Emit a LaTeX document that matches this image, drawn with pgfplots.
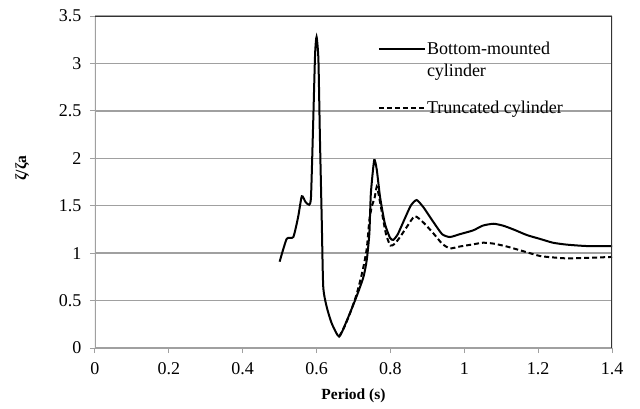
\documentclass[border=0pt]{standalone}
\usepackage{fontspec}
\setmainfont{Liberation Serif}
\usepackage{pgfplots}
\pgfplotsset{compat=1.18}
\definecolor{gridgray}{HTML}{A0A0A0}
\begin{document}
\begin{tikzpicture}
\path[use as bounding box] (-95pt,-60pt) rectangle (545pt,348pt);
\begin{axis}[
  at={(0pt,0pt)}, anchor=origin,
  scale only axis, width=517pt, height=332pt,
  xmin=0, xmax=1.4, ymin=0, ymax=3.5,
  xtick={0,0.2,...,1.4}, ytick={0,0.5,...,3.5},
  xticklabels={0,0.2,0.4,0.6,0.8,1,1.2,1.4},
  yticklabels={0,0.5,1,1.5,2,2.5,3,3.5},
  axis line style={draw=none},
  ymajorgrids, grid style={gridgray, line width=1.3pt},
  tick align=outside, major tick length=5pt,
  tick style={gridgray, line width=1pt},
  xtick pos=bottom, ytick pos=left,
  ticklabel style={font=\fontsize{18}{21}\selectfont},
  xticklabel style={yshift=-6pt},
  yticklabel style={xshift=-5pt},
  /pgf/number format/assume math mode=true,
  xlabel={Period (s)},
  ylabel={ζ/ζa},
  xlabel style={font=\fontsize{15.5}{18}\selectfont\bfseries, at={(axis description cs:0.5,-0.145)}, anchor=center},
  ylabel style={font=\fontsize{15.5}{18}\selectfont\bfseries, at={(axis description cs:-0.141,0.542)}, anchor=center},
  legend style={at={(0.547,0.925)}, anchor=north west, draw=none, fill=none,
    font=\fontsize{18}{22}\selectfont, inner sep=0pt, row sep=21pt,
    nodes={align=left, inner sep=1pt}},
  legend cell align=left,
]
\addplot[black, line width=2pt, dash pattern=on 5pt off 3pt, smooth, tension=0.35,
  forget plot] table {
x y
0.661 0.12
0.675 0.22
0.690 0.36
0.708 0.56
0.725 0.82
0.736 1.05
0.743 1.35
0.750 1.50
0.757 1.58
0.763 1.70
0.768 1.62
0.776 1.45
0.788 1.20
0.800 1.08
0.812 1.10
0.826 1.17
0.845 1.28
0.866 1.39
0.890 1.32
0.916 1.21
0.940 1.10
0.961 1.05
0.988 1.07
1.020 1.09
1.051 1.11
1.080 1.10
1.115 1.07
1.160 1.02
1.205 0.97
1.240 0.955
1.277 0.945
1.330 0.95
1.400 0.96
};
\addplot[black, line width=2pt, smooth, tension=0.35,
  legend image code/.code={\draw[black, line width=2pt] (0pt,11pt) -- (46pt,11pt);}] table {
x y
0.500 0.91
0.519 1.15
0.537 1.17
0.550 1.38
0.560 1.60
0.570 1.54
0.580 1.51
0.585 1.60
0.591 2.40
0.596 3.10
0.600 3.28
0.605 3.04
0.609 2.23
0.614 1.35
0.618 0.65
0.627 0.44
0.641 0.26
0.661 0.12
0.681 0.28
0.708 0.54
0.727 0.75
0.736 0.93
0.743 1.21
0.747 1.63
0.756 1.98
0.763 1.88
0.772 1.59
0.785 1.31
0.799 1.16
0.808 1.14
0.820 1.20
0.835 1.33
0.855 1.50
0.871 1.56
0.890 1.48
0.916 1.33
0.940 1.20
0.961 1.17
0.988 1.20
1.024 1.24
1.050 1.29
1.079 1.31
1.105 1.29
1.133 1.25
1.170 1.19
1.205 1.15
1.240 1.11
1.277 1.09
1.331 1.075
1.400 1.075
};
\addlegendentry{Bottom-mounted\\cylinder}
\addlegendimage{black, line width=2pt,
  legend image code/.code={\draw[black, line width=2pt, dash pattern=on 5pt off 3pt] (0pt,0pt) -- (46pt,0pt);}}
\addlegendentry{Truncated cylinder}
\draw[gridgray, line width=1.3pt] (rel axis cs:0,1) -- (rel axis cs:0,0) -- (rel axis cs:1,0);
\draw[black!80, line width=1.3pt] (rel axis cs:0,1) -- (rel axis cs:1,1) -- (rel axis cs:1,0);
\end{axis}
\end{tikzpicture}
\end{document}
